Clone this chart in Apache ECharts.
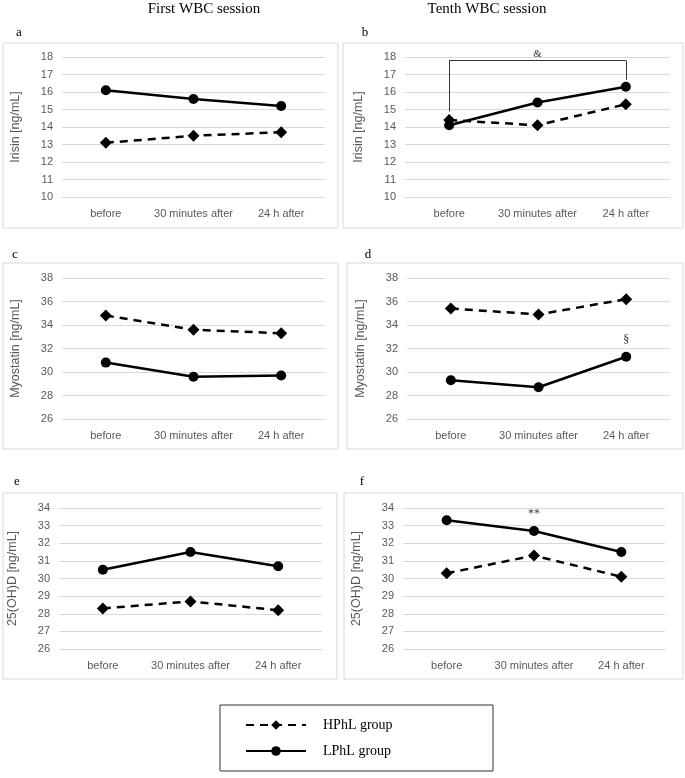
<!DOCTYPE html>
<html>
<head>
<meta charset="utf-8">
<script src="https://cdn.jsdelivr.net/npm/echarts@6/dist/echarts.min.js"></script>
<style>
  html, body { margin: 0; padding: 0; background: #fff; }
  #chart { width: 685px; height: 778px; }
</style>
</head>
<body>
<div id="chart"></div>
<script>
  var categories = ["before", "30 minutes after", "24 h after"];

  // panel values
  var irisinFirstH = [13.1, 13.5, 13.7];
  var irisinFirstL = [16.1, 15.6, 15.2];
  var irisinTenthH = [14.4, 14.1, 15.3];
  var irisinTenthL = [14.1, 15.4, 16.3];
  var myoFirstH = [34.8, 33.6, 33.3];
  var myoFirstL = [30.8, 29.6, 29.7];
  var myoTenthH = [35.4, 34.9, 36.2];
  var myoTenthL = [29.3, 28.7, 31.3];
  var vitFirstH = [28.3, 28.7, 28.2];
  var vitFirstL = [30.5, 31.5, 30.7];
  var vitTenthH = [30.3, 31.3, 30.1];
  var vitTenthL = [33.3, 32.7, 31.5];

  var panels = [
    { letter: "a", name: "Irisin [ng/mL]", min: 10, max: 18, interval: 1, h: irisinFirstH, l: irisinFirstL,
      grid: { left: 62, top: 57, width: 263, height: 140 }, box: [3, 43, 335, 185], lx: 19, ly: 33 },
    { letter: "b", name: "Irisin [ng/mL]", min: 10, max: 18, interval: 1, h: irisinTenthH, l: irisinTenthL,
      grid: { left: 405, top: 57, width: 265, height: 140 }, box: [343, 43, 340, 185], lx: 365, ly: 33 },
    { letter: "c", name: "Myostatin [ng/mL]", min: 26, max: 38, interval: 2, h: myoFirstH, l: myoFirstL,
      grid: { left: 62, top: 278, width: 263, height: 141 }, box: [3, 263, 335, 186], lx: 15, ly: 255 },
    { letter: "d", name: "Myostatin [ng/mL]", min: 26, max: 38, interval: 2, h: myoTenthH, l: myoTenthL,
      grid: { left: 407, top: 278, width: 263, height: 141 }, box: [347, 263, 336, 186], lx: 368, ly: 255,
      markL: { index: 2, text: "§" } },
    { letter: "e", name: "25(OH)D [ng/mL]", min: 26, max: 34, interval: 1, h: vitFirstH, l: vitFirstL,
      grid: { left: 59, top: 508, width: 263, height: 141 }, box: [3, 493, 334, 186], lx: 17, ly: 482 },
    { letter: "f", name: "25(OH)D [ng/mL]", min: 26, max: 34, interval: 1, h: vitTenthH, l: vitTenthL,
      grid: { left: 403, top: 508, width: 262, height: 141 }, box: [344, 493, 339, 186], lx: 362, ly: 482,
      markL: { index: 1, text: "**" } }
  ];

  var tickFont = "Liberation Sans";
  var serif = "Liberation Serif";

  var grids = [], xAxes = [], yAxes = [], series = [], graphics = [];

  panels.forEach(function (p, i) {
    grids.push(p.grid);
    xAxes.push({
      type: "category",
      gridIndex: i,
      data: categories,
      axisTick: { show: false },
      axisLine: { lineStyle: { color: "#d9d9d9" } },
      axisLabel: { color: "#595959", fontSize: 11, fontFamily: tickFont, margin: 11, interval: 0 }
    });
    yAxes.push({
      type: "value",
      gridIndex: i,
      min: p.min,
      max: p.max,
      interval: p.interval,
      name: p.name,
      nameLocation: "middle",
      nameGap: 40,
      nameTextStyle: { color: "#595959", fontSize: 12.5, fontFamily: tickFont },
      axisLine: { show: false },
      axisTick: { show: false },
      axisLabel: { color: "#595959", fontSize: 11, fontFamily: tickFont, margin: 9 },
      splitLine: { lineStyle: { color: "#d9d9d9", width: 1 } }
    });

    var lData = p.l.map(function (v, k) {
      if (p.markL && p.markL.index === k) {
        return { value: v, label: { show: true, position: "top", distance: 6, formatter: p.markL.text,
          color: "#333", fontSize: 12, fontFamily: serif } };
      }
      return v;
    });

    var hSeries = {
      name: "HPhL group",
      type: "line",
      xAxisIndex: i,
      yAxisIndex: i,
      data: p.h,
      symbol: "diamond",
      symbolSize: 12,
      itemStyle: { color: "#000" },
      lineStyle: { color: "#000", width: 2.5, type: [8, 6] },
      z: 3
    };
    var lSeries = {
      name: "LPhL group",
      type: "line",
      xAxisIndex: i,
      yAxisIndex: i,
      data: lData,
      symbol: "circle",
      symbolSize: 10,
      itemStyle: { color: "#000" },
      lineStyle: { color: "#000", width: 2.5 },
      z: 4
    };

    // bracket with "&" in panel b
    if (p.letter === "b") {
      lSeries.markLine = {
        silent: true,
        symbol: "none",
        lineStyle: { color: "#333", width: 1, type: "solid" },
        label: { show: false },
        data: [
          [{ coord: [0, 14.9] }, { coord: [0, 17.8] }],
          [{ coord: [0, 17.8] }, { coord: [2, 17.8], label: { show: true, position: "middle", formatter: "&",
            color: "#333", fontSize: 11, fontFamily: serif, distance: 1 } }],
          [{ coord: [2, 17.8] }, { coord: [2, 16.7] }]
        ]
      };
    }

    series.push(hSeries, lSeries);

    graphics.push({
      type: "rect",
      shape: { x: p.box[0], y: p.box[1], width: p.box[2], height: p.box[3] },
      style: { fill: "none", stroke: "#d9d9d9", lineWidth: 1 },
      z: 0
    });
    graphics.push({
      type: "text",
      x: p.lx,
      y: p.ly,
      style: { text: p.letter, font: "13px " + serif, fill: "#000", textAlign: "center", textVerticalAlign: "middle" }
    });
  });

  // session titles
  graphics.push({
    type: "text", x: 204, y: 9,
    style: { text: "First WBC session", font: "15px " + serif, fill: "#000", textAlign: "center", textVerticalAlign: "middle" }
  });
  graphics.push({
    type: "text", x: 487, y: 9,
    style: { text: "Tenth WBC session", font: "15px " + serif, fill: "#000", textAlign: "center", textVerticalAlign: "middle" }
  });
  // legend frame
  graphics.push({
    type: "rect",
    shape: { x: 220, y: 705, width: 273, height: 66 },
    style: { fill: "none", stroke: "#333", lineWidth: 1 }
  });

  var chart = echarts.init(document.getElementById("chart"));
  chart.setOption({
    backgroundColor: "#fff",
    animation: false,
    grid: grids,
    xAxis: xAxes,
    yAxis: yAxes,
    series: series,
    graphic: graphics,
    legend: {
      data: ["HPhL group", "LPhL group"],
      orient: "vertical",
      left: 240,
      top: 713,
      itemWidth: 60,
      itemHeight: 12,
      itemGap: 12,
      textStyle: { color: "#000", fontSize: 14, fontFamily: serif, padding: [0, 0, 0, 12] }
    }
  });
</script>
</body>
</html>
